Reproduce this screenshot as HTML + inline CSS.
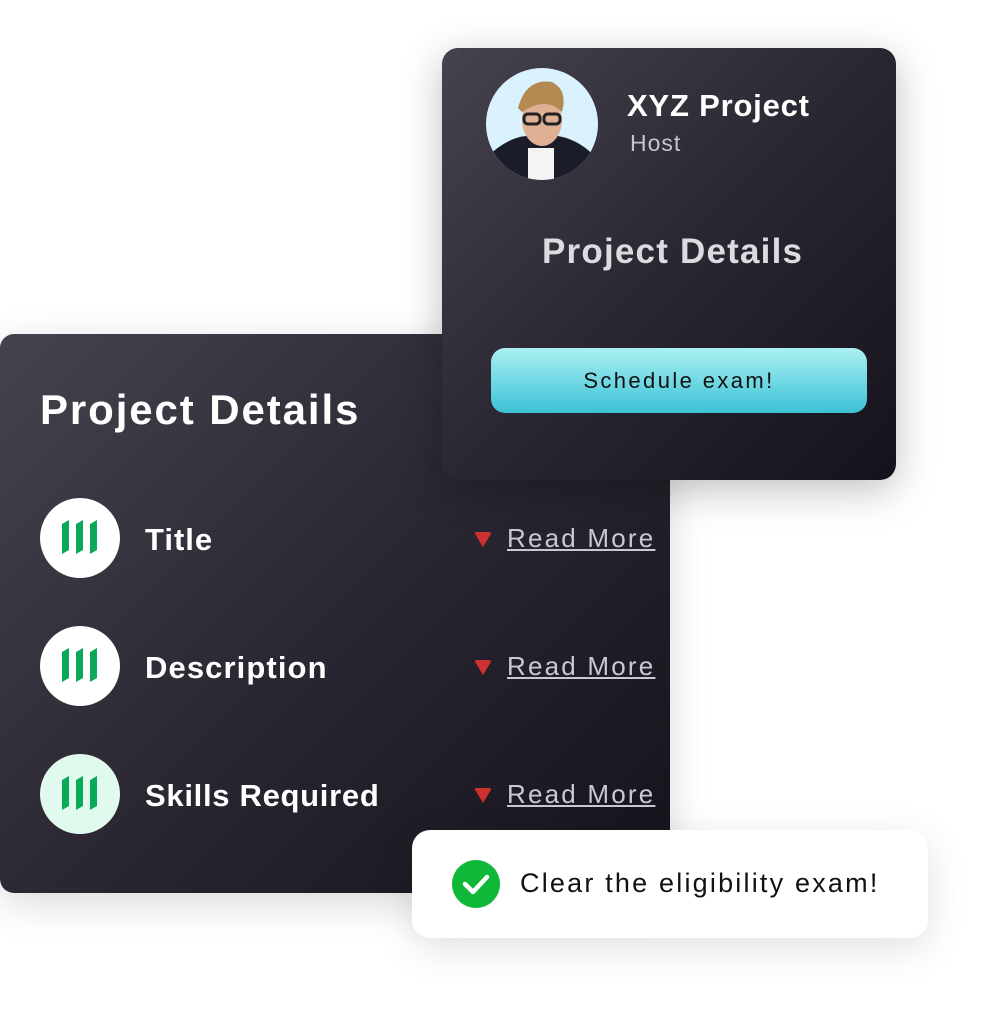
<!DOCTYPE html>
<html><head><style>
body{margin:0;width:988px;height:1018px;background:#fff;position:relative;overflow:hidden;font-family:"Liberation Sans",sans-serif}
.card{position:absolute;background:linear-gradient(135deg,#46434f 0%,#2a2732 50%,#15121c 100%)}
.left{left:0;top:334px;width:670px;height:559px;border-radius:14px;box-shadow:0 10px 40px rgba(0,0,0,.15)}
.top{left:442px;top:48px;width:454px;height:432px;border-radius:16px;box-shadow:0 10px 40px rgba(0,0,0,.25)}
.t{position:absolute;white-space:nowrap;font-weight:bold}
.ic{position:absolute;left:40px;width:80px;height:80px;border-radius:50%;background:#fff}
.rm{position:absolute;left:507px;font-size:26px;color:#c9c9d0;text-decoration:underline;letter-spacing:2.2px;white-space:nowrap}
.tri{position:absolute;left:474px;width:0;height:0;border-left:9px solid transparent;border-right:9px solid transparent;border-top:15px solid #d03030;border-radius:3px}
</style></head><body>
<div class="card left"></div>
<div class="t" style="left:40px;top:386px;font-size:42px;color:#fff;letter-spacing:1.9px">Project Details</div>

<div class="ic" style="top:498px"><svg width="80" height="80"><g fill="#0aa957"><polygon points="22,26 29,22 29,52 22,56"/><polygon points="36,26 43,22 43,52 36,56"/><polygon points="50,26 57,22 57,52 50,56"/></g></svg></div>
<div class="ic" style="top:626px"><svg width="80" height="80"><g fill="#0aa957"><polygon points="22,26 29,22 29,52 22,56"/><polygon points="36,26 43,22 43,52 36,56"/><polygon points="50,26 57,22 57,52 50,56"/></g></svg></div>
<div class="ic" style="top:754px;background:#e0fbee"><svg width="80" height="80"><g fill="#0aa957"><polygon points="22,26 29,22 29,52 22,56"/><polygon points="36,26 43,22 43,52 36,56"/><polygon points="50,26 57,22 57,52 50,56"/></g></svg></div>
<div class="t" style="left:145px;top:522px;font-size:31px;color:#fff;letter-spacing:1px">Title</div>
<div class="t" style="left:145px;top:650px;font-size:31px;color:#fff;letter-spacing:1.1px">Description</div>
<div class="t" style="left:145px;top:778px;font-size:31px;color:#fff;letter-spacing:0.7px">Skills Required</div>
<div class="tri" style="top:532px"></div><div class="rm" style="top:523px">Read More</div>
<div class="tri" style="top:660px"></div><div class="rm" style="top:651px">Read More</div>
<div class="tri" style="top:788px"></div><div class="rm" style="top:779px">Read More</div>

<div class="card top"></div>
<svg style="position:absolute;left:486px;top:68px" width="112" height="112">
<defs><clipPath id="c"><circle cx="56" cy="56" r="56"/></clipPath></defs>
<g clip-path="url(#c)"><rect width="112" height="112" fill="#d9f2fd"/>
<path d="M0,90 Q20,70 40,68 L72,68 Q95,72 112,92 L112,112 L0,112Z" fill="#1b1c2a"/>
<rect x="42" y="80" width="26" height="32" fill="#f4f4f4"/>
<ellipse cx="56" cy="52" rx="20" ry="26" fill="#e0b095"/>
<path d="M32,40 Q40,10 66,14 Q82,22 76,44 Q60,28 36,44Z" fill="#b38a52"/>
<rect x="38" y="46" width="16" height="10" rx="4" fill="none" stroke="#222" stroke-width="3"/>
<rect x="58" y="46" width="16" height="10" rx="4" fill="none" stroke="#222" stroke-width="3"/></g></svg>
<div class="t" style="left:627px;top:88px;font-size:31px;color:#fff;letter-spacing:0.8px">XYZ Project</div>
<div style="position:absolute;left:630px;top:130px;font-size:23px;color:#c6c4cc;letter-spacing:1px">Host</div>
<div class="t" style="left:542px;top:232px;font-size:35px;color:#dcdce0;letter-spacing:1.2px">Project Details</div>
<div style="position:absolute;left:491px;top:348px;width:376px;height:65px;border-radius:14px;background:linear-gradient(180deg,#aaf0f2,#3cc2d6);text-align:center;line-height:65px;font-size:22px;color:#111;letter-spacing:2.4px">Schedule exam!</div>

<div style="position:absolute;left:412px;top:830px;width:516px;height:108px;border-radius:18px;background:#fff;box-shadow:0 10px 40px rgba(0,0,0,.12)"></div>
<svg style="position:absolute;left:452px;top:860px" width="48" height="48"><circle cx="24" cy="24" r="24" fill="#10b83a"/><path d="M13,24 L21,32 L35,17" stroke="#fff" stroke-width="4.5" fill="none" stroke-linecap="round" stroke-linejoin="round"/></svg>
<div style="position:absolute;left:520px;top:868px;font-size:27px;color:#111;white-space:nowrap;letter-spacing:2.2px">Clear the eligibility exam!</div>
</body></html>
